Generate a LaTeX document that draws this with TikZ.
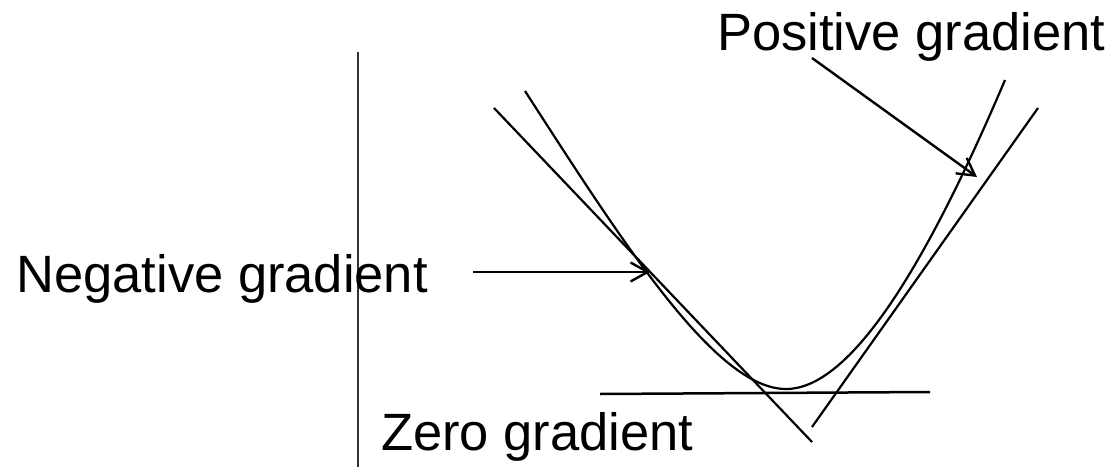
\documentclass[tikz,border=0pt]{standalone}
\usepackage{fontspec}
\setmainfont{Liberation Sans}
\usetikzlibrary{arrows.meta}

\begin{document}
\begin{tikzpicture}[x=1pt,y=-1pt,line width=2.2pt,
  lab/.style={inner sep=0pt,font=\fontsize{52.5}{60}\selectfont},
  pointer/.style={line width=2.4pt,-{Straight Barb[length=17pt,width=19pt]}}]
  \useasboundingbox (0,0) rectangle (1114,471);
  % vertical axis
  \coordinate (axtop) at (358,52);
  \coordinate (axbot) at (358,467);
  \draw[line width=1.6pt,black!80] (axtop) -- (axbot);
  % the curve
  \coordinate (cleft) at (525,91);
  \coordinate (cmin) at (786,389);
  \coordinate (cright) at (1005,80);
  \draw (cleft) .. controls (625,246) and (716,389) .. (cmin)
        .. controls (856,389) and (935,244.5) .. (cright);
  % tangents
  \coordinate (negA) at (494,108); \coordinate (negB) at (812,442);
  \coordinate (posA) at (812,427); \coordinate (posB) at (1038,108);
  \coordinate (zeroA) at (600,394); \coordinate (zeroB) at (930,392);
  \draw (negA) -- (negB);
  \draw (posA) -- (posB);
  \draw[line width=2.5pt] (zeroA) -- (zeroB);
  % labels
  \node[lab,anchor=base east] (neglab) at (429,292) {Negative gradient};
  \node[lab,anchor=base west] (poslab) at (716,50) {Positive gradient};
  \node[lab,anchor=base west] (zerolab) at (380,450) {Zero gradient};
  % pointers
  \coordinate (negtail) at (473,272); \coordinate (negpt) at (650,272);
  \coordinate (postail) at (812,58); \coordinate (pospt) at (977,177);
  \draw[pointer] (negtail) -- (negpt);
  \draw[pointer] (postail) -- (pospt);
\end{tikzpicture}
\end{document}
